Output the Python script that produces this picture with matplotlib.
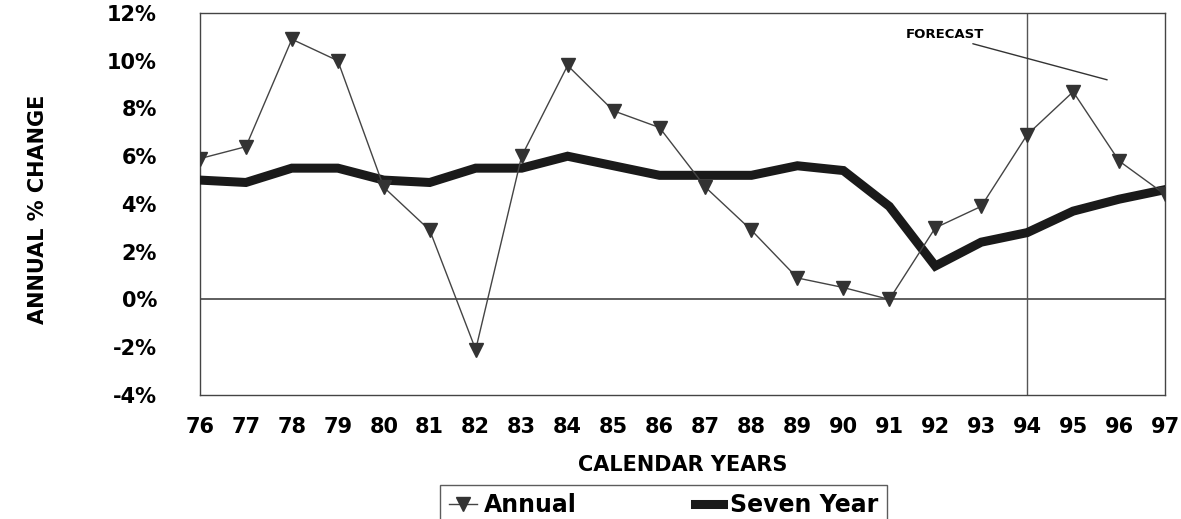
import matplotlib
matplotlib.use('Agg')

import matplotlib.pyplot as plt
import numpy as np

# annual % change and the seven-year average, calendar years 1976-1997
years = ['76', '77', '78', '79', '80', '81', '82', '83', '84', '85', '86',
         '87', '88', '89', '90', '91', '92', '93', '94', '95', '96', '97']
annual = [5.9, 6.4, 10.9, 10.0, 4.7, 2.9, -2.1, 6.0, 9.8, 7.9, 7.2,
          4.7, 2.9, 0.9, 0.5, 0.0, 3.0, 3.9, 6.9, 8.7, 5.8, 4.4]
seven_year = [5.0, 4.9, 5.5, 5.5, 5.0, 4.9, 5.5, 5.5, 6.0, 5.6, 5.2,
              5.2, 5.2, 5.6, 5.4, 3.9, 1.4, 2.4, 2.8, 3.7, 4.2, 4.6]
yticks = [-4, -2, 0, 2, 4, 6, 8, 10, 12]
forecast_start = '94'

x = np.arange(len(years))

fig = plt.figure(figsize=(11.81, 5.19), dpi=100)
ax = fig.add_axes([0.1693, 0.239, 0.8172, 0.736])

ax.plot(x, seven_year, color='#1a1a1a', linewidth=6.5, solid_joinstyle='miter',
        label='Seven Year', zorder=3)
ax.plot(x, annual, color='#444444', linewidth=1.0, marker='v', markersize=10,
        markerfacecolor='#333333', markeredgecolor='#333333', label='Annual', zorder=4)

# zero line and start of forecast period
ax.axhline(0, color='#333333', linewidth=1.1, zorder=2)
fx = years.index(forecast_start)
ax.axvline(fx, color='#555555', linewidth=1.0, zorder=2)

ax.set_xlim(0, len(years) - 1)
ax.set_ylim(-4, 12)
ax.set_xticks(x)
ax.set_xticklabels(years)
ax.set_yticks(yticks)
ax.set_yticklabels([f'{v}%' for v in yticks])
ax.tick_params(length=0, labelsize=15)
ax.tick_params(axis='x', pad=16)
ax.tick_params(axis='y', pad=31)
for lbl in ax.get_xticklabels() + ax.get_yticklabels():
    lbl.set_fontweight('heavy')

for s in ax.spines.values():
    s.set_color('#444444')
    s.set_linewidth(1.0)

ax.set_xlabel('CALENDAR YEARS', fontsize=15, fontweight='heavy', labelpad=13)
fig.text(0.032, 0.597, 'ANNUAL % CHANGE', rotation=90, fontsize=15,
         fontweight='heavy', ha='center', va='center')

ax.annotate('FORECAST', xy=(19.74, 9.2), xytext=(16.2, 11.1),
            fontsize=9.5, fontweight='heavy', ha='center', va='center',
            arrowprops=dict(arrowstyle='-', color='#333333', linewidth=1.0,
                            shrinkA=0, shrinkB=0, relpos=(0.73, 0.0)))

handles, labels = ax.get_legend_handles_labels()
leg = fig.legend(handles[::-1], labels[::-1], loc='lower center', ncol=2,
                 bbox_to_anchor=(0.562, -0.035), frameon=True, fancybox=False,
                 edgecolor='#333333', handlelength=1.2, handletextpad=0.3,
                 columnspacing=5, borderpad=0.35,
                 prop={'weight': 'heavy', 'size': 17})
leg.get_frame().set_linewidth(1.0)

fig.savefig('out.png', dpi=100)
